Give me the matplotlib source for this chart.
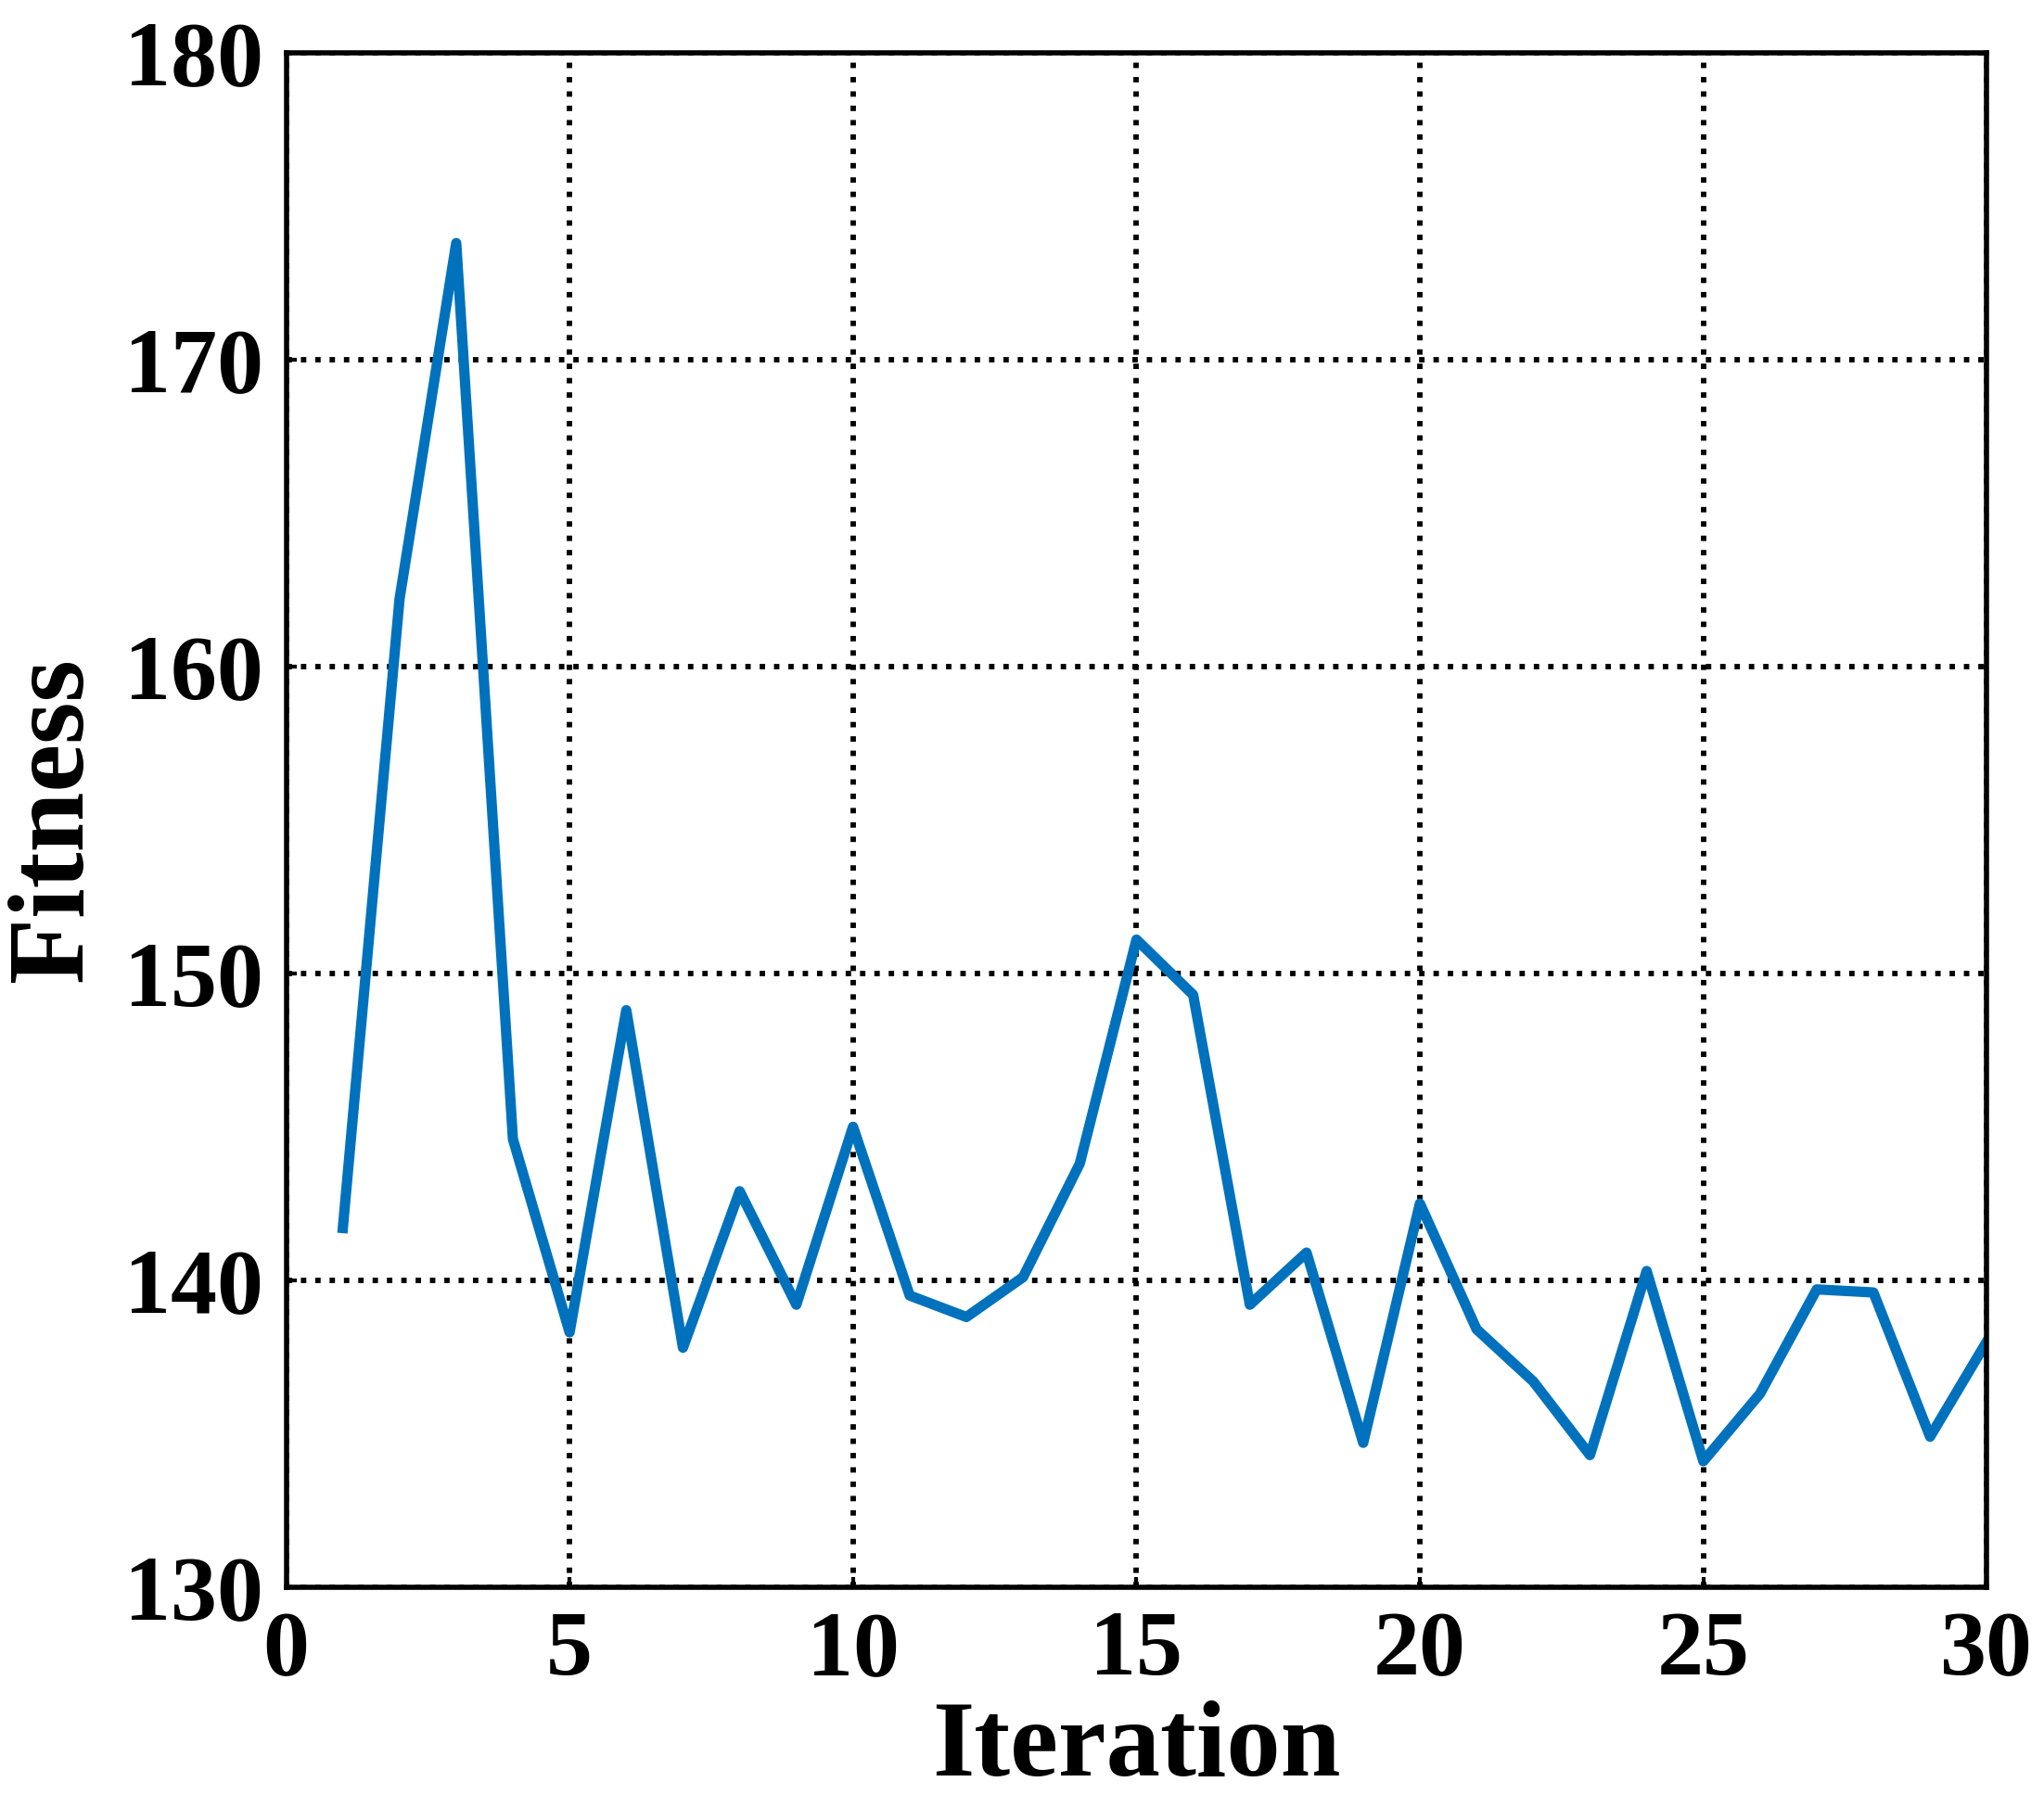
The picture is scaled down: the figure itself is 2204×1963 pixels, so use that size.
import matplotlib.pyplot as plt

iterations = list(range(1, 31))
fitness = [141.7, 162.2, 173.8, 144.6, 138.3, 148.8, 137.8, 142.9, 139.2, 145.0,
           139.5, 138.8, 140.1, 143.8, 151.1, 149.3, 139.2, 140.9, 134.7, 142.5,
           138.4, 136.7, 134.3, 140.3, 134.1, 136.3, 139.7, 139.6, 134.9, 138.0]
xticks = [0, 5, 10, 15, 20, 25, 30]
yticks = [130, 140, 150, 160, 170, 180]

plt.rcParams['font.family'] = ['Liberation Serif', 'DejaVu Serif']
plt.rcParams['font.weight'] = 'bold'

fig = plt.figure(figsize=(22.04, 19.63), dpi=100)
ax = fig.add_axes([0.14, 0.128, 0.832, 0.843])
ax.plot(iterations, fitness, color='#0072BD', linewidth=8)
ax.set_xlim(0, 30)
ax.set_ylim(130, 180)
ax.set_xticks(xticks)
ax.set_yticks(yticks)
ax.grid(True, color='black', linestyle=':', linewidth=4.2)
for s in ax.spines.values():
    s.set_linewidth(4)
ax.tick_params(labelsize=72, width=3, length=8, direction='in', pad=18)
for lab in ax.get_xticklabels() + ax.get_yticklabels():
    lab.set_fontweight('bold')
ax.set_xlabel('Iteration', fontsize=84, fontweight='bold', labelpad=5)
ax.set_ylabel('Fitness', fontsize=84, fontweight='bold', labelpad=15)

fig.savefig('out.png', dpi=100)
